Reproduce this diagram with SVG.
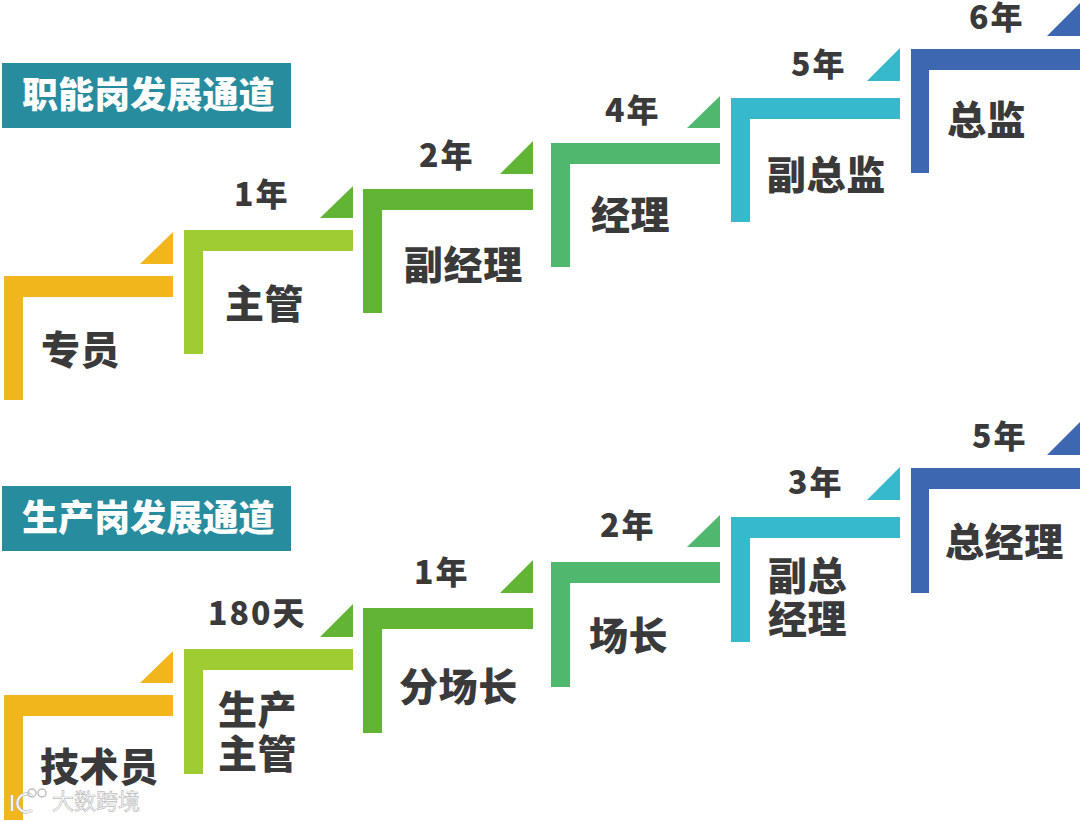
<svg xmlns="http://www.w3.org/2000/svg" width="1080" height="821" viewBox="0 0 1080 821">
<style>
text{font-family:"Noto Sans CJK SC","Noto Sans",sans-serif;font-weight:900;fill:#3a3a3a}
.t{font-size:39px;letter-spacing:.6px}
.y{font-size:32px;letter-spacing:2px}
.h{font-size:36px;letter-spacing:.1px;fill:#fff}
.c1{fill:#f2b61d}.c2{fill:#a0cc33}.c3{fill:#62b534}.c4{fill:#50b86e}.c5{fill:#37b9cc}.c6{fill:#3d68b1}
.w{font-size:22px;font-weight:400;fill:#fff;stroke:#bdbdbd;stroke-width:.7px}
</style>
<rect width="1080" height="821" fill="#fff"/>
<g id="title-1"><rect x="2" y="63" width="289" height="65" fill="#278c9e"/><text class="h" x="22" y="108">职能岗发展通道</text></g>
<g id="title-2"><rect x="2" y="486" width="289" height="65" fill="#278c9e"/><text class="h" x="22" y="531">生产岗发展通道</text></g>
<g id="connectors"></g>
<g id="n1"><path class="c1" d="M4 276H173V297H23V400H4Z"/><polygon class="c1" points="173,232 173,264 140,264"/><text class="t" x="41" y="364">专员</text></g>
<g id="n2"><path class="c2" d="M184 230H353V251H203V354H184Z"/><polygon class="c3" points="353,186 353,218 320,218"/><text class="t" x="225" y="318">主管</text><text class="y" x="234" y="206">1年</text></g>
<g id="n3"><path class="c3" d="M363 189H533V210H382V313H363Z"/><polygon class="c3" points="533,141 533,174 500,174"/><text class="t" x="404" y="279">副经理</text><text class="y" x="419" y="167">2年</text></g>
<g id="n4"><path class="c4" d="M551 143H720V164H570V267H551Z"/><polygon class="c4" points="720,96 720,128 687,128"/><text class="t" x="591" y="229">经理</text><text class="y" x="605" y="122">4年</text></g>
<g id="n5"><path class="c5" d="M731 98H900V119H750V222H731Z"/><polygon class="c5" points="900,48 900,81 867,81"/><text class="t" x="767" y="189">副总监</text><text class="y" x="791" y="76">5年</text></g>
<g id="n6"><path class="c6" d="M911 49H1080V70H929V173H911Z"/><polygon class="c6" points="1080,3 1080,36 1047,36"/><text class="t" x="947" y="134">总监</text><text class="y" x="969" y="29">6年</text></g>
<g id="m1"><path class="c1" d="M4 695H173V716H23V820H4Z"/><polygon class="c1" points="173,651 173,683 140,683"/><text class="t" x="40" y="781">技术员</text></g>
<g id="m2"><path class="c2" d="M184 649H353V670H203V774H184Z"/><polygon class="c3" points="353,604 353,637 320,637"/><text class="t" x="218" y="724">生产</text><text class="t" x="218" y="768">主管</text><text class="y" x="208" y="625">180天</text></g>
<g id="m3"><path class="c3" d="M363 608H533V629H382V733H363Z"/><polygon class="c3" points="533,560 533,593 500,593"/><text class="t" x="399" y="701">分场长</text><text class="y" x="414" y="584">1年</text></g>
<g id="m4"><path class="c4" d="M551 562H720V583H570V687H551Z"/><polygon class="c4" points="720,515 720,547 687,547"/><text class="t" x="589" y="650">场长</text><text class="y" x="600" y="537">2年</text></g>
<g id="m5"><path class="c5" d="M731 517H900V538H750V642H731Z"/><polygon class="c5" points="900,467 900,500 867,500"/><text class="t" x="768" y="590">副总</text><text class="t" x="768" y="633">经理</text><text class="y" x="788" y="494">3年</text></g>
<g id="m6"><path class="c6" d="M911 468H1080V489H929V593H911Z"/><polygon class="c6" points="1080,422 1080,455 1047,455"/><text class="t" x="945" y="556">总经理</text><text class="y" x="972" y="448">5年</text></g>
<g id="watermark"><text class="w" x="52" y="809">大数跨境</text><path d="M12 795V811M32 796A9 9 0 1 0 32 810" fill="none" stroke="#bdbdbd" stroke-width="3.5"/><path d="M12 795V811M32 796A9 9 0 1 0 32 810" fill="none" stroke="#f4f4f4" stroke-width="2"/><circle cx="32" cy="793" r="4" fill="none" stroke="#bdbdbd" stroke-width="1.5"/><circle cx="42" cy="793" r="4" fill="none" stroke="#bdbdbd" stroke-width="1.5"/></g>
</svg>
